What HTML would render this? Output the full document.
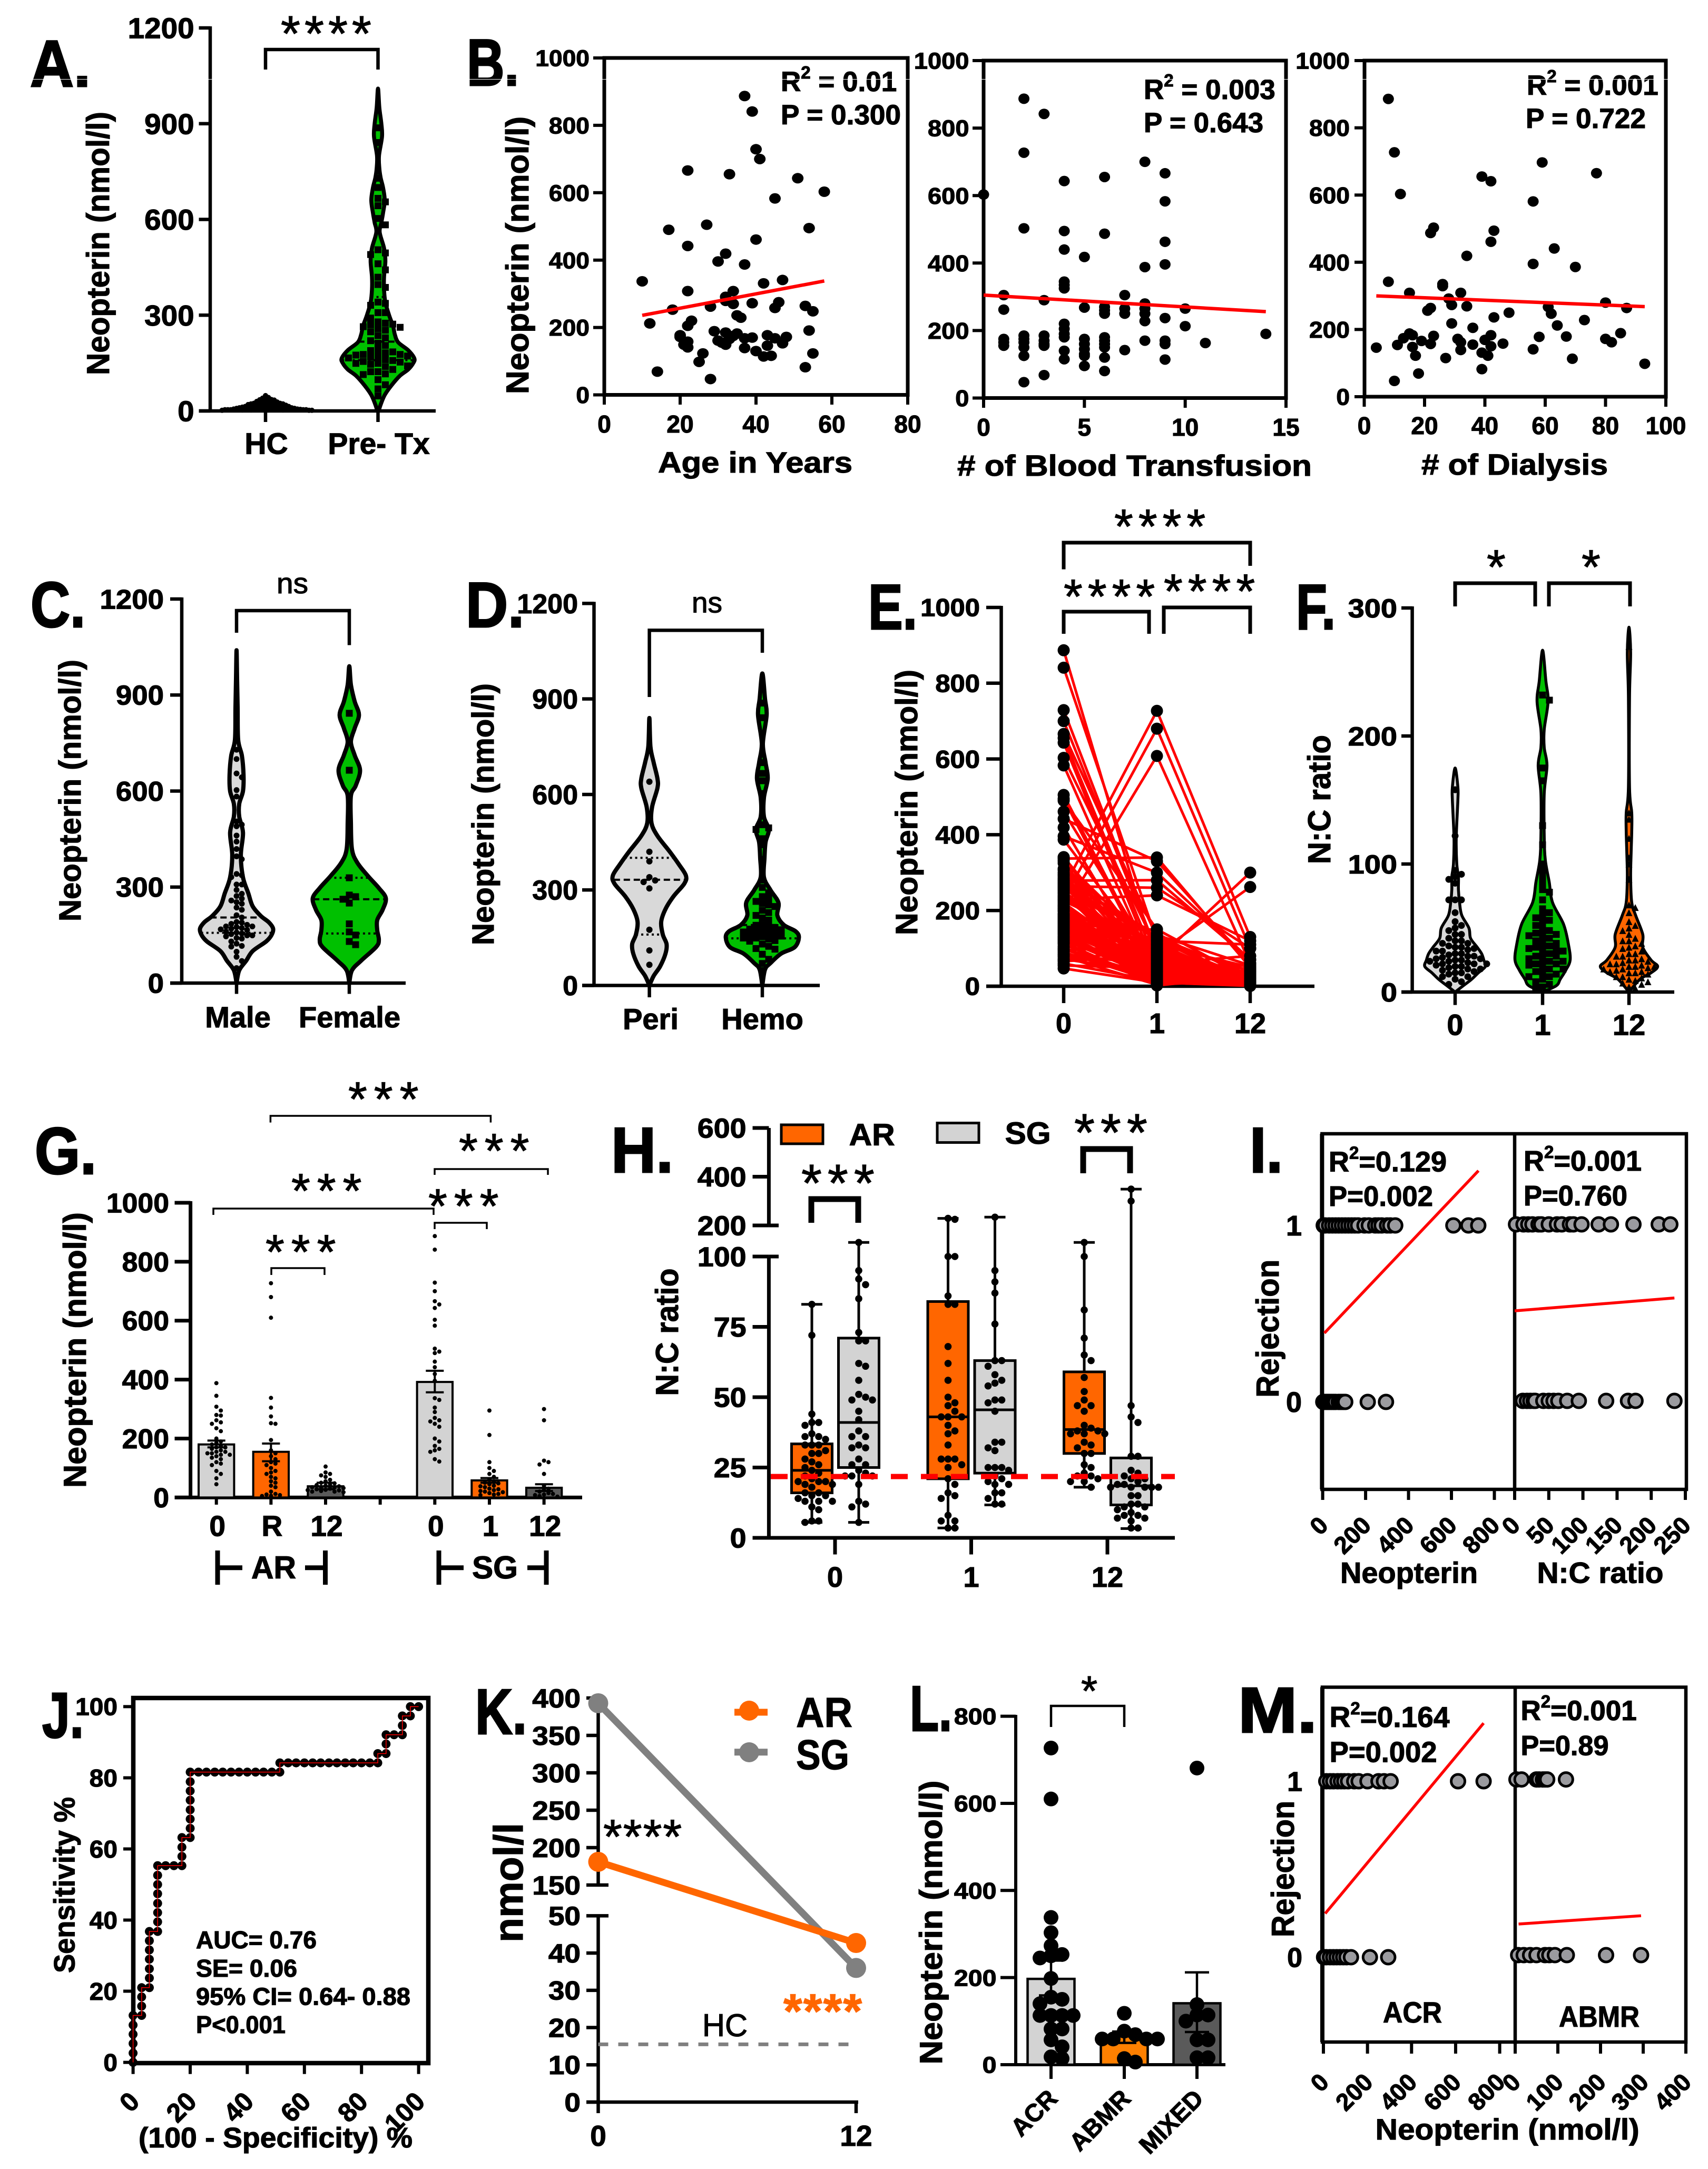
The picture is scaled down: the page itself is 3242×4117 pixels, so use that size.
<!DOCTYPE html>
<html lang="en">
<head>
<meta charset="utf-8">
<title>Neopterin multi-panel figure</title>
<style>
html,body{margin:0;padding:0;background:#fff}
svg{display:block}
text{font-family:"Liberation Sans",sans-serif;font-weight:700;fill:#000;stroke:#000;stroke-width:1.2px}
text[font-size="122"],text[font-size="125"]{stroke-width:3px}
.r{font-weight:400}
.br{fill:none;stroke:#000;stroke-linejoin:miter}
</style>
</head>
<body>
<svg id="fig" xmlns="http://www.w3.org/2000/svg" width="3242" height="4117" viewBox="0 0 3242 4117">
<rect width="3242" height="4117" fill="#fff"/>

<g id="pA">
<text x="57" y="164" font-size="125" textLength="115" lengthAdjust="spacingAndGlyphs">A.</text>
<text transform="translate(207,712) rotate(-90)" font-size="60" textLength="500" lengthAdjust="spacingAndGlyphs">Neopterin (nmol/l)</text>
<text class="r" x="533" y="96" font-size="95" letter-spacing="8">****</text>
<path class="br" stroke-width="6.5" d="M504 132V94H717.5V132"/>
</g>

<g id="pB">
<text x="886" y="162" font-size="125" textLength="99" lengthAdjust="spacingAndGlyphs">B.</text>
<text transform="translate(1003,748) rotate(-90)" font-size="60" textLength="527" lengthAdjust="spacingAndGlyphs">Neopterin (nmol/l)</text>
<text x="1482" y="173" font-size="53">R<tspan font-size="33" dy="-24">2</tspan><tspan dy="24"> = 0.01</tspan></text>
<text x="1482" y="236" font-size="53" textLength="228" lengthAdjust="spacingAndGlyphs">P = 0.300</text>
<text x="1249" y="897" font-size="56" textLength="369" lengthAdjust="spacingAndGlyphs">Age in Years</text>
<text x="2171" y="188" font-size="53">R<tspan font-size="33" dy="-24">2</tspan><tspan dy="24"> = 0.003</tspan></text>
<text x="2171" y="251" font-size="53" textLength="227" lengthAdjust="spacingAndGlyphs">P = 0.643</text>
<text x="1817" y="903" font-size="56" textLength="673" lengthAdjust="spacingAndGlyphs"># of Blood Transfusion</text>
<text x="2898" y="180" font-size="53">R<tspan font-size="33" dy="-24">2</tspan><tspan dy="24"> = 0.001</tspan></text>
<text x="2896" y="243" font-size="53" textLength="228" lengthAdjust="spacingAndGlyphs">P = 0.722</text>
<text x="2698" y="901" font-size="56" textLength="354" lengthAdjust="spacingAndGlyphs"># of Dialysis</text>
</g>

<g id="pC">
<text x="58" y="1190" font-size="122" textLength="104" lengthAdjust="spacingAndGlyphs">C.</text>
<text transform="translate(153,1749) rotate(-90)" font-size="58" textLength="497" lengthAdjust="spacingAndGlyphs">Neopterin (nmol/l)</text>
<text class="r" x="525" y="1126" font-size="55" textLength="60" lengthAdjust="spacingAndGlyphs">ns</text>
<path class="br" stroke-width="6.5" d="M449 1201V1159H663V1224.5"/>
</g>

<g id="pD">
<text x="884" y="1190" font-size="122" textLength="111" lengthAdjust="spacingAndGlyphs">D.</text>
<text transform="translate(937,1794) rotate(-90)" font-size="58" textLength="497" lengthAdjust="spacingAndGlyphs">Neopterin (nmol/l)</text>
<text class="r" x="1313" y="1162.6" font-size="55" textLength="58" lengthAdjust="spacingAndGlyphs">ns</text>
<path class="br" stroke-width="6.5" d="M1232.6 1323V1196.4H1447V1239"/>
</g>

<g id="pE">
<text x="1648" y="1194" font-size="122" textLength="93" lengthAdjust="spacingAndGlyphs">E.</text>
<text transform="translate(1741,1775) rotate(-90)" font-size="58" textLength="504" lengthAdjust="spacingAndGlyphs">Neopterin (nmol/l)</text>
<text class="r" x="2115" y="1031" font-size="92" letter-spacing="10">****</text>
<path class="br" stroke-width="7" d="M2019 1080.6V1030H2373V1074"/>
<text class="r" x="2019" y="1164" font-size="92" letter-spacing="10">****</text>
<path class="br" stroke-width="7" d="M2019 1203V1161H2181V1203"/>
<text class="r" x="2209" y="1154" font-size="92" letter-spacing="10">****</text>
<path class="br" stroke-width="7" d="M2209 1203V1153H2373V1203"/>
</g>

<g id="pF">
<text x="2460" y="1194" font-size="122" textLength="75" lengthAdjust="spacingAndGlyphs">F.</text>
<text transform="translate(2525,1640) rotate(-90)" font-size="60" textLength="245" lengthAdjust="spacingAndGlyphs">N:C ratio</text>
<text class="r" x="2822" y="1108" font-size="92">*</text>
<text class="r" x="3002" y="1108" font-size="92">*</text>
<path class="br" stroke-width="7" d="M2762 1151V1107H2914V1151"/>
<path class="br" stroke-width="7" d="M2940 1151V1107H3094V1151"/>
</g>

<g id="pG">
<text x="66" y="2228" font-size="125" textLength="117" lengthAdjust="spacingAndGlyphs">G.</text>
<text transform="translate(163,2824) rotate(-90)" font-size="60" textLength="523" lengthAdjust="spacingAndGlyphs">Neopterin (nmol/l)</text>
<path class="br" stroke-width="3.5" d="M513.4 2130.6V2118H931.4V2130.6"/>
<text class="r" x="661" y="2118" font-size="92" letter-spacing="13">***</text>
<path class="br" stroke-width="3.5" d="M825 2230V2219H1040V2230"/>
<text class="r" x="871" y="2216" font-size="92" letter-spacing="13">***</text>
<path class="br" stroke-width="3.5" d="M405 2306V2294H823V2306"/>
<text class="r" x="553" y="2292" font-size="92" letter-spacing="13">***</text>
<path class="br" stroke-width="3.5" d="M825 2333V2321H924V2333"/>
<text class="r" x="813" y="2321" font-size="92" letter-spacing="13">***</text>
<path class="br" stroke-width="3.5" d="M515 2420V2407H616V2420"/>
<text class="r" x="504" y="2408" font-size="92" letter-spacing="13">***</text>
<path class="br" stroke-width="9" d="M413 2943V3008M413 2975.7H460M579 2975.7H617.5M617.5 2943V3008"/>
<text x="477" y="2996" font-size="60" textLength="85" lengthAdjust="spacingAndGlyphs">AR</text>
<path class="br" stroke-width="9" d="M833 2943V3008M833 2975.7H880M1001 2975.7H1037M1037 2943V3008"/>
<text x="896" y="2996" font-size="60" textLength="87" lengthAdjust="spacingAndGlyphs">SG</text>
</g>

<g id="pH">
<text x="1160" y="2225" font-size="122" textLength="118" lengthAdjust="spacingAndGlyphs">H.</text>
<text transform="translate(1287,2649.5) rotate(-90)" font-size="60" textLength="242" lengthAdjust="spacingAndGlyphs">N:C ratio</text>
<rect x="1483" y="2135" width="79" height="36" fill="#ff6600" stroke="#000" stroke-width="5"/>
<text x="1611.6" y="2174" font-size="58" textLength="87" lengthAdjust="spacingAndGlyphs">AR</text>
<rect x="1779" y="2131.6" width="79" height="37" fill="#d3d3d3" stroke="#000" stroke-width="5"/>
<text x="1907.6" y="2171" font-size="58" textLength="87" lengthAdjust="spacingAndGlyphs">SG</text>
<text class="r" x="2039" y="2184" font-size="100" letter-spacing="11">***</text>
<path class="br" stroke-width="11" d="M2056 2227V2181H2145V2227"/>
<text class="r" x="1521" y="2280" font-size="100" letter-spacing="11">***</text>
<path class="br" stroke-width="11" d="M1540 2321V2276H1629V2321"/>
</g>

<g id="pI">
<text x="2372" y="2225" font-size="122" textLength="63" lengthAdjust="spacingAndGlyphs">I.</text>
<text transform="translate(2427,2652.7) rotate(-90)" font-size="60" textLength="262" lengthAdjust="spacingAndGlyphs">Rejection</text>
<text x="2522" y="2223.5" font-size="54">R<tspan font-size="33" dy="-24">2</tspan><tspan dy="24">=0.129</tspan></text>
<text x="2522" y="2289" font-size="54" textLength="198" lengthAdjust="spacingAndGlyphs">P=0.002</text>
<text x="2892" y="2222" font-size="54">R<tspan font-size="33" dy="-24">2</tspan><tspan dy="24">=0.001</tspan></text>
<text x="2892" y="2288" font-size="54" textLength="197" lengthAdjust="spacingAndGlyphs">P=0.760</text>
<text x="2544" y="3004.7" font-size="56" textLength="261" lengthAdjust="spacingAndGlyphs">Neopterin</text>
<text x="2917.5" y="3004.7" font-size="56" textLength="240" lengthAdjust="spacingAndGlyphs">N:C ratio</text>
</g>

<g id="pJ">
<text x="80" y="3298" font-size="122" textLength="79" lengthAdjust="spacingAndGlyphs">J.</text>
<text transform="translate(141.6,3745) rotate(-90)" font-size="56" textLength="334" lengthAdjust="spacingAndGlyphs">Sensitivity %</text>
<text x="263" y="4076" font-size="54" textLength="520" lengthAdjust="spacingAndGlyphs">(100 - Specificity) %</text>
<text x="372" y="3698" font-size="46" textLength="229" lengthAdjust="spacingAndGlyphs">AUC= 0.76</text>
<text x="372" y="3752" font-size="46" textLength="192" lengthAdjust="spacingAndGlyphs">SE= 0.06</text>
<text x="372" y="3805.7" font-size="46" textLength="407" lengthAdjust="spacingAndGlyphs">95% CI= 0.64- 0.88</text>
<text x="372" y="3859" font-size="46" textLength="170" lengthAdjust="spacingAndGlyphs">P&lt;0.001</text>
</g>

<g id="pK">
<text x="902" y="3291" font-size="122" textLength="98" lengthAdjust="spacingAndGlyphs">K.</text>
<text transform="translate(992,3687) rotate(-90)" font-size="78" textLength="227" lengthAdjust="spacingAndGlyphs">nmol/l</text>
<text class="r" x="1145" y="3518" font-size="92" letter-spacing="2">****</text>
<text x="1487" y="3849" font-size="92" letter-spacing="2" style="fill:#ff6600;stroke:#ff6600">****</text>
<text class="r" x="1333" y="3865" font-size="60" textLength="86" lengthAdjust="spacingAndGlyphs">HC</text>
<text x="1511" y="3278" font-size="80" textLength="107" lengthAdjust="spacingAndGlyphs">AR</text>
<text x="1511" y="3358" font-size="80" textLength="101" lengthAdjust="spacingAndGlyphs">SG</text>
</g>

<g id="pL">
<text x="1727" y="3285" font-size="122" textLength="80" lengthAdjust="spacingAndGlyphs">L.</text>
<text transform="translate(1788,3918.5) rotate(-90)" font-size="60" textLength="539" lengthAdjust="spacingAndGlyphs">Neopterin (nmol/l)</text>
<path class="br" stroke-width="4.5" d="M1995 3278V3238H2134V3278"/>
<text class="r" x="2052" y="3237" font-size="80">*</text>
</g>

<g id="pM">
<text x="2350" y="3288" font-size="122" textLength="150" lengthAdjust="spacingAndGlyphs">M.</text>
<text transform="translate(2456,3677) rotate(-90)" font-size="60" textLength="259" lengthAdjust="spacingAndGlyphs">Rejection</text>
<text x="2523.6" y="3278" font-size="55">R<tspan font-size="33" dy="-24">2</tspan><tspan dy="24">=0.164</tspan></text>
<text x="2523.6" y="3344.5" font-size="55" textLength="204" lengthAdjust="spacingAndGlyphs">P=0.002</text>
<text x="2886.5" y="3265" font-size="53">R<tspan font-size="33" dy="-24">2</tspan><tspan dy="24">=0.001</tspan></text>
<text x="2886.5" y="3331.5" font-size="53" textLength="167" lengthAdjust="spacingAndGlyphs">P=0.89</text>
<text x="2625" y="3839" font-size="56" textLength="112" lengthAdjust="spacingAndGlyphs">ACR</text>
<text x="2959" y="3847" font-size="56" textLength="153" lengthAdjust="spacingAndGlyphs">ABMR</text>
<text x="2610.7" y="4061" font-size="56" textLength="501" lengthAdjust="spacingAndGlyphs">Neopterin (nmol/l)</text>
</g>
<rect x="0" y="150" width="3242" height="1" fill="#fff"/>
</svg>

<script>
// ---------- Panel A data ----------
const aTicks = ['0','300','600','900','1200'];
const aCategories = ['HC','Pre- Tx'];
const hcValues = [48,42,40,38,36,35,34,32,30,30,28,28,26,26,25,24,24,22,22,22,20,20,20,18,18,18,16,16,16,15,14,14,14,12,12,12,12,10,10,10,10,10,8,8,8,8,8,6,6,6,6,6,6,5,5,5,5,4,4,4,4,4,3,3,3,3,2,2,2];
const preTxValues = [887,841,729,700,666,655,643,603,583,505,495,490,461,442,419,396,387,341,337,331,308,308,291,279,275,272,270,264,262,258,253,248,236,229,220,212,205,191,189,185,182,177,177,175,172,170,168,166,161,158,155,153,149,149,146,141,139,130,123,123,116,114,98,82,69,47];
const preTxDensityAt = [0,20,50,80,110,130,150,165,190,215,240,265,300,340,380,420,470,510,560,590,620,660,700,730,760,800,860,900,950,1010];
const preTxDensity = [2,8,20,40,65,90,105,108,90,60,50,45,33,22,18,18,22,18,5,10,15,20,15,8,4,3,12,10,4,0];
const preTxQuartiles = [159,217,357];

// ---------- Panel B data ----------
const bYTicks = ['0','200','400','600','800','1000'];
const ageTicks = ['0','20','40','60','80'];
const ageYears = [10,12,14,17,18,20,20,21,22,22,22,22,22,22,23,25,26,27,28,28,29,30,30,31,32,32,32,32,32,33,33,34,34,34,35,35,36,37,37,37,37,39,39,39,40,40,40,41,42,42,43,43,44,45,45,45,46,47,47,48,51,53,53,54,54,55,55,58];
const ageNeopterin = [337,212,69,490,253,177,172,149,666,442,308,205,158,141,220,98,123,505,262,47,189,396,161,155,419,291,279,185,149,655,166,308,270,175,236,182,229,887,387,168,139,841,272,170,729,461,130,700,331,114,177,146,116,583,258,168,275,341,153,172,643,264,82,495,191,248,123,603];
const ageFitX = [10,58];
const ageFitY = [236,338];
const transfusionTicks = ['0','5','10','15'];
const transfusionCounts = [0,1,2,3,4,5,6,7,8,9,10,11,14];
const neopterinByTransfusion = [[603],[305,262,175,165,155],[887,727,503,185,175,165,150,125,47],[842,290,185,170,160,155,68],[643,495,440,345,335,325,220,205,190,180,140,115],[418,268,175,160,145,130,125,95],[655,487,270,260,250,180,170,160,150,120,80],[305,265,250,142],[700,388,280,265,250,228,170],[666,583,463,396,237,170,160,114],[265,213],[163],[190]];
const transfusionFitX = [0,14];
const transfusionFitY = [305,256];
const dialysisTicks = ['0','20','40','60','80','100'];
const dialysisCounts = [4,8,8,10,10,11,12,13,15,15,16,16,17,18,19,21,22,22,22,23,23,26,26,27,28,29,29,31,32,32,32,34,34,36,36,39,39,39,40,41,42,42,42,42,43,43,46,48,56,56,56,58,59,61,62,64,63,67,69,70,73,77,80,80,82,85,87,93];
const dialysisNeopterin = [146,886,342,727,47,154,603,174,309,188,183,148,122,69,166,256,487,264,157,503,181,335,329,115,292,273,218,172,309,162,139,419,269,205,155,655,131,82,169,122,641,461,183,150,494,236,158,250,581,395,141,178,697,267,247,212,441,179,113,386,228,665,280,172,162,189,264,98];
const dialysisFitX = [4,93];
const dialysisFitY = [300,268];

// ---------- Panel C / D data ----------
const vTicks = ['0','300','600','900','1200'];
const maleValues = [729,700,655,643,603,583,505,495,490,461,442,419,396,387,341,337,331,308,308,291,279,272,264,258,253,248,236,229,212,205,191,189,185,182,177,177,175,172,170,168,166,161,158,155,153,149,149,146,141,139,130,123,116,114,98,82,69,47];
const maleDensityAt = [0,40,70,100,130,150,170,190,210,240,280,330,400,470,520,560,600,650,710,760,860,950,1040];
const maleDensity = [0,5,18,30,55,65,68,60,45,30,22,12,8,12,5,5,12,13,10,3,2,1,0];
const maleQuartiles = [157,205,null];
const femaleValues = [843,665,329,275,270,262,250,185,160,150,130,120];
const femaleDensityAt = [0,40,70,113,135,165,197,229,265,297,334,376,418,500,585,617,665,712,754,796,838,880,932,990];
const femaleDensity = [0,5,22,50,55,52,52,62,68,55,35,15,5,3,3,12,20,10,3,10,18,10,3,0];
const femaleQuartiles = [155,262,329];
const periValues = [640,420,390,340,330,325,305,175,110,65];
const periDensityAt = [0,30,60,100,130,160,200,240,280,320,345,380,420,470,510,560,620,650,700,750,840];
const periDensity = [0,8,20,30,32,25,22,30,45,65,68,55,38,15,4,5,15,15,8,2,0];
const periQuartiles = [160,332,401];
const hemoValues = [887,841,700,666,643,603,505,495,490,461,442,396,331,308,291,279,272,264,258,253,248,236,229,220,212,205,191,189,185,182,177,175,172,170,168,166,161,158,155,153,149,149,146,141,139,130,123,116,114,98,82,69,47];
const hemoDensityAt = [0,50,70,100,120,150,170,190,220,260,300,340,400,450,490,530,590,650,700,760,850,900,980];
const hemoDensity = [0,5,15,35,60,68,62,40,28,30,15,3,4,6,12,3,3,10,6,1,8,5,0];
const hemoQuartiles = [148,190,null];

// ---------- Panel E data ----------
const eTicks = ['0','200','400','600','800','1000'];
const eVisits = ['0','1','12'];
const e0 = [887,841,729,700,666,655,643,603,583,505,495,490,461,442,419,396,387,341,337,331,308,308,291,279,275,272,270,264,262,258,253,248,236,229,220,212,205,191,189,185,182,177,177,175,172,170,168,166,161,158,155,153,149,149,146,141,139,130,123,123,116,114,98,82,69,47,300,260,230,200,180,160,340,325,310,295,285,270,255,245,235,225,215,205,198,190,183,176,170,163,157,150,144,137,132,127,120,112,105,100,95,90,85,78,72,66,60,55,280,265,240,210];
const e1 = [60,120,90,90,130,60,40,100,30,30,20,150,60,330,10,300,60,45,340,90,25,120,70,280,100,50,15,260,130,110,30,80,90,240,45,60,10,30,75,110,55,20,40,90,15,60,35,8,100,70,50,25,45,120,30,10,60,85,40,20,5,70,15,35,100,10,100,727,680,608,40,25,12,30,60,8,85,20,140,5,50,110,16,95,35,10,70,125,3,45,28,150,6,90,18,115,38,2,75,22,105,12,55,4,33,80,14,48,135,25,65,9];
const e12 = [10,20,30,5,30,15,8,25,12,40,3,18,10,60,2,70,7,22,50,5,14,40,9,70,3,35,6,100,4,11,28,2,16,120,8,5,19,3,45,1,13,6,30,2,10,80,4,7,20,300,15,3,9,110,5,2,25,262,6,1,40,3,8,2,18,1,10,130,100,60,2,7,5,12,2,25,8,35,1,15,3,50,6,20,10,2,30,4,45,7,1,18,60,3,14,1,9,28,2,40,6,11,1,22,4,16,3,8,55,2,13,5];

// ---------- Panel F data ----------
const fTicks = ['0','100','200','300'];
const fVisits = ['0','1','12'];
const nc0 = [158,122,95,92,90,88,85,72,72,72,62,55,52,50,48,45,45,42,40,40,38,38,36,35,35,34,33,32,32,30,30,29,28,28,27,26,26,25,25,24,24,23,22,22,22,21,20,20,19,18,18,17,16,15,15,14,12,12,10,8,6];
const nc1 = [232,228,175,165,130,115,100,95,90,85,80,78,72,65,62,60,58,56,55,52,50,48,46,45,45,44,42,40,40,38,36,35,35,34,33,32,30,30,28,28,26,25,24,24,22,22,21,20,18,18,16,15,14,12,12,10,8,6,4,3];
const nc12 = [270,140,135,120,105,100,88,68,66,62,55,52,50,48,45,42,40,40,38,36,35,34,32,30,30,28,28,26,25,25,24,23,22,22,21,20,20,20,19,18,18,17,16,16,15,15,14,12,12,11,10,9,8,7,6,4,3];
const nc0DensityAt = [0,5,10,15,20,25,30,35,42,50,60,70,80,90,100,120,150,160,175];
const nc0Density = [0,15,30,42,55,52,48,40,28,25,12,8,6,6,3,2,5,5,0];
const nc1DensityAt = [0,5,10,17,25,37,53,70,86,103,122,155,177,191,205,227,243,267];
const nc1Density = [0,25,32,42,50,47,38,18,12,5,3,3,8,3,3,10,6,0];
const nc12DensityAt = [0,10,15,20,25,35,45,60,70,90,110,125,140,160,230,265,285];
const nc12Density = [0,20,40,52,40,25,25,12,5,3,4,5,5,1,1,3,0];

// ---------- Panel G data ----------
const gTicks = ['0','200','400','600','800','1000'];
const gCategories = ['0','R','12','','0','1','12'];
const gMeans = [180,155,38,null,392,58,33];
const gErrUpper = [193,183,50,null,430,66,45];
const gErrLower = [170,123,28,null,357,50,22];
const gAR0 = [388,345,308,295,280,278,262,255,250,235,225,200,190,185,180,175,170,170,165,160,155,155,150,150,145,145,140,135,130,120,115,110,90,80,65,45];
const gARR = [727,680,610,338,305,275,252,250,195,160,150,140,130,120,115,110,100,90,85,80,70,65,55,50,40,35,20,12,10,8,6,5];
const gAR12 = [105,85,80,75,70,60,55,50,48,45,42,40,38,36,35,34,32,30,28,26,25,24,22,20,20,18];
const gSG0 = [887,841,729,700,666,655,643,603,583,505,495,490,461,442,419,396,337,331,305,290,270,262,258,250,240,200,190,175,165,160,155,130,122];
const gSG1 = [295,212,120,100,90,80,70,60,55,50,48,45,40,38,35,30,28,25,22,20,18,15,12,10,8];
const gSG12 = [300,262,125,120,112,80,40,30,25,20,15,12,10,8,5,3];

// ---------- Panel H data ----------
const hTicks = ['0','25','50','75','100','200','400','600'];
const hVisits = ['0','1','12'];
const hQ1 = [16,25,21,23,30,11.7];
const hMedian = [24,41,43,45.5,38.5,18.5];
const hQ3 = [33.4,71,84,63,59,28.4];
const hMin = [5.5,5.5,3.5,11.7,18,3.3];
const hMax = [83,105,229,234,105,349];
const hCutoff = [21.8];
const hAR0 = [83,72,44,41,41,40,37,36,36,35,33,33,33,31,30,30,28,27,26,25,24,23,22,21,20,20,20,19,19,18,16,16,15,15,14,13,13,13,11,10,6,6,5.5];
const hSG0 = [105,95,92,90,85,73,70,70,62,61,56,51,50,49,49,45,42,38,36,36,33,32,32,28,26,26,24,23,22,22,22,19,13,12,11,5.5];
const hAR1 = [229,225,100,100,86,83,83,68,62,56,50,48,47,45,43,43,43,40,38,37,33,28,28,28,26,25,21,19,16,15,14,8,6,6,3.5,3.5];
const hSG1 = [234,95,91,87,76,63,63,61,58,56,55,54,49,49,48,45,34,34,32,31,25,25,25,24,22,21,20,19,19,16,16,14,12,12];
const hAR12 = [105,100,81,71,65,63,57,52,49,47,47,45,40,39,38,38,37,37,37,34,33,32,30,30,26,25,23,22,22,21,20,20,18];
const hSG12 = [349,300,47,43,41,29,29,24,23,22,21,21,20,19,19,18,18,18,18,18,15,15,12,12,11,11,10,9,8,8,7,7,6,3.5,3.5];

// ---------- Panel I data ----------
const iYTicks = ['0','1'];
const iNeoTicks = ['0','200','400','600','800'];
const iNcTicks = ['0','50','100','150','200','250'];
const iNeoRejected = [5,12,30,45,60,75,90,105,120,135,150,165,195,215,245,260,275,300,315,338,609,679,725];
const iNeoStable = [3,10,20,30,40,50,60,75,85,95,105,210,295];
const iNcRejected = [2,13,20,26,35,39,50,62,69,81,86,98,123,141,174,211,228];
const iNcStable = [12,18,23,28,30,42,50,57,64,77,94,134,166,177,234];
const iNeoFitX = [8,726];
const iNeoFitY = [0.39,1.31];
const iNcFitX = [0,234];
const iNcFitY = [0.51,0.583];

// ---------- Panel J data ----------
const jTicks = ['0','20','40','60','80','100'];
const rocFpr = [0,3,5.7,8.6,11.4,14.3,17.1,20,22.9,25.7,28.6,31.4,34.3,37.1,40,42.9,45.7,48.6,51.4,54.3,57.1,60,62.9,65.7,68.6,71.4,74.3,77.1,80,82.9,85.7,88.6,91.4,94.3,97.1,100];
const rocSens = [[0,2.6,5.3,7.9,10.5,13.2],[13.2,15.8,18.4,21],[21,23.7,26.3,29,31.6,34.2,36.8],[36.8,39.5,42.1,44.7,47.4,50,52.6,55.3],[55.3],[55.3],[55.3,57.9,60.5,63.2],[63.2,65.8,68.4,71,73.7,76.3,78.9,81.6],[81.6],[81.6],[81.6],[81.6],[81.6],[81.6],[81.6],[81.6],[81.6],[81.6],[81.6,84.2],[84.2],[84.2],[84.2],[84.2],[84.2],[84.2],[84.2],[84.2],[84.2],[84.2],[84.2],[84.2,86.8],[86.8,89.5,92.1],[92.1],[92.1,94.7,97.4],[97.4,100],[100]];

// ---------- Panel K data ----------
const kTicks = ['0','10','20','30','40','50','150','200','250','300','350','400'];
const kMonths = [0,12];
const kAR = [181,42.7];
const kSG = [393,36];
const kHC = [15.5];

// ---------- Panel L data ----------
const lTicks = ['0','200','400','600','800'];
const lCategories = ['ACR','ABMR','MIXED'];
const lMeans = [197,65,141];
const lErrUpper = [239,76,212];
const lErrLower = [159,50,75];
const lACR = [727,610,338,303,273,253,250,245,198,155,150,140,113,113,113,113,82,82,57,41,18,14];
const lABMR = [118,77,69,59,59,59,59,14,6];
const lMIXED = [681,138,114,114,100,57,57,16,16];

// ---------- Panel M data ----------
const mAcrTicks = ['0','200','400','600','800'];
const mAbmrTicks = ['0','100','200','300','400'];
const mAcrRejected = [13,30,45,64,80,95,112,140,160,200,250,275,305,611,727];
const mAcrStable = [3,13,30,45,60,75,90,105,125,211,294];
const mAbmrRejected = [3,15,50,56,65,70,75,119];
const mAbmrStable = [7,20,35,50,70,80,93,121,213,295];
const mAcrFitX = [8,727];
const mAcrFitY = [0.248,1.33];
const mAbmrFitX = [8,295];
const mAbmrFitY = [0.177,0.224];

// ---------- Helpers ----------
const NS = 'http://www.w3.org/2000/svg';
function add(parent, tag, attrs, name) {
  const el = document.createElementNS(NS, tag);
  for (const k in attrs) el.setAttribute(k, attrs[k]);
  
  
  parent.appendChild(el);
  return el;
}
function lin(d0, d1, r0, r1) { return v => r0 + (v - d0) * (r1 - r0) / (d1 - d0); }
function seg(g, x1, y1, x2, y2, w, name, color, dash) {
  const a = {x1, y1, x2, y2, stroke: color || '#000', 'stroke-width': w};
  if (dash) a['stroke-dasharray'] = dash;
  return add(g, 'line', a, name);
}
function label(g, str, x, y, size, anchor, xs, name, rot) {
  const a = {'font-size': size, 'text-anchor': anchor};
  if (rot) { a.transform = `translate(${x},${y}) rotate(${rot})`; } else { a.x = x; a.y = y; }
  if (xs) { a.textLength = str.length * 0.556 * size * xs; a.lengthAdjust = 'spacingAndGlyphs'; }
  const t = add(g, 'text', a, name);
  t.textContent = str;
  return t;
}
function yTicks(g, ticks, y, axisX, left, labelRight, size, xs, sw) {
  ticks.forEach(t => {
    const py = y(+t);
    seg(g, left, py, axisX, py, sw, 'y-tick');
    label(g, t, labelRight, py + 0.355 * size, size, 'end', xs, 'y-tick-label');
  });
}
function xTicksNum(g, ticks, x, yBase, bottom, labelY, size, sw) {
  ticks.forEach(t => {
    const px = x(+t);
    seg(g, px, yBase, px, bottom, sw, 'x-tick');
    label(g, t, px, labelY, size, 'middle', 0, 'x-tick-label');
  });
}
function xTicksRot(g, ticks, x, yBase, bottom, ox, ly, size, sw) {
  ticks.forEach(t => {
    const px = x(+t);
    seg(g, px, yBase, px, bottom, sw, 'x-tick');
    label(g, t, px + ox, ly, size, 'end', 0, 'x-tick-label', -45);
  });
}
function swarm(vals, y, d) {
  const placed = [];
  [...vals].sort((a, b) => b - a).forEach(v => {
    const py = y(v);
    for (let k = 0; k < 60; k++) {
      const off = k === 0 ? 0 : (k % 2 ? 1 : -1) * Math.ceil(k / 2) * d;
      if (!placed.some(p => Math.abs(p.y - py) < d * 0.9 && Math.abs(p.dx - off) < d * 0.9)) {
        placed.push({v, y: py, dx: off});
        break;
      }
    }
  });
  return placed;
}
function dots(g, vals, cx, y, d, r, shape, name) {
  swarm(vals, y, d).forEach(p => {
    if (shape === 'square') {
      add(g, 'rect', {x: cx + p.dx - r, y: p.y - r, width: 2 * r, height: 2 * r, fill: '#000'}, name);
    } else if (shape === 'triangle') {
      add(g, 'path', {d: `M${cx + p.dx} ${p.y - r}L${cx + p.dx + r} ${p.y + r}L${cx + p.dx - r} ${p.y + r}Z`, fill: '#000'}, name);
    } else {
      add(g, 'circle', {cx: cx + p.dx, cy: p.y, r, fill: '#000'}, name);
    }
  });
}
function smooth(pts) {
  let d = `M${pts[0][0]} ${pts[0][1]}`;
  for (let i = 0; i < pts.length - 1; i++) {
    const p0 = pts[Math.max(i - 1, 0)], p1 = pts[i], p2 = pts[i + 1], p3 = pts[Math.min(i + 2, pts.length - 1)];
    const c1 = [p1[0] + (p2[0] - p0[0]) / 6, p1[1] + (p2[1] - p0[1]) / 6];
    const c2 = [p2[0] - (p3[0] - p1[0]) / 6, p2[1] - (p3[1] - p1[1]) / 6];
    d += `C${c1[0]} ${c1[1]} ${c2[0]} ${c2[1]} ${p2[0]} ${p2[1]}`;
  }
  return d + 'Z';
}
function densityAt(at, dens, v) {
  for (let i = 0; i < at.length - 1; i++) {
    if (v >= at[i] && v <= at[i + 1]) return dens[i] + (dens[i + 1] - dens[i]) * (v - at[i]) / (at[i + 1] - at[i]);
  }
  return 0;
}
function violin(g, cx, y, at, dens, k, fill, sw, quart, name) {
  const right = at.map((v, i) => [cx + dens[i] * k, y(v)]);
  const left = at.map((v, i) => [cx - dens[i] * k, y(v)]).reverse();
  add(g, 'path', {d: smooth(right.concat(left.slice(1))), fill, stroke: '#000', 'stroke-width': sw, 'stroke-linejoin': 'round'}, name);
  if (quart) quart.forEach((q, i) => {
    if (q === null) return;
    const w = densityAt(at, dens, q) * k;
    seg(g, cx - w, y(q), cx + w, y(q), 4, name + '-quartile-line', '#000', i === 1 ? '12 7' : '4 6');
  });
}
function fitLine(g, x, y, xs, ys, w, name) {
  seg(g, x(xs[0]), y(ys[0]), x(xs[1]), y(ys[1]), w, name, '#ff0000');
}

const pA = document.getElementById('pA'), pB = document.getElementById('pB'), pC = document.getElementById('pC'),
      pD = document.getElementById('pD'), pE = document.getElementById('pE'), pF = document.getElementById('pF'),
      pG = document.getElementById('pG'), pH = document.getElementById('pH'), pI = document.getElementById('pI'),
      pJ = document.getElementById('pJ'), pK = document.getElementById('pK'), pL = document.getElementById('pL'),
      pM = document.getElementById('pM');

// ---------- Violin two-group panels ----------
function violinAxes(g, cfg) {
  seg(g, cfg.axisX, cfg.y(+cfg.ticks[cfg.ticks.length - 1]) - 3, cfg.axisX, cfg.y(0) + 3, cfg.sw, 'y-axis');
  seg(g, cfg.left, cfg.y(0), cfg.right, cfg.y(0), cfg.sw, 'x-axis');
  yTicks(g, cfg.ticks, cfg.y, cfg.axisX, cfg.left, cfg.labelRight, cfg.size, cfg.xs, cfg.sw);
  cfg.cats.forEach((c, i) => {
    seg(g, cfg.xs2[i], cfg.y(0), cfg.xs2[i], cfg.tickBottom, cfg.sw, 'x-tick');
    label(g, c, cfg.labelX[i], cfg.labelY, cfg.catSize, 'middle', 0, 'x-tick-label');
  });
}

// Panel A
const aY = lin(0, 1200, 780, 53);
violinAxes(pA, {axisX: 399, y: aY, ticks: aTicks, left: 377.5, right: 827, sw: 6.5, labelRight: 368.6, size: 55, xs: 1.03, cats: aCategories, xs2: [504, 717.5], tickBottom: 801, labelX: [505.5, 719], labelY: 861.6, catSize: 57});
violin(pA, 717.5, aY, preTxDensityAt, preTxDensity, 1 / 1.568, '#00c000', 7.5, preTxQuartiles, 'pre-tx-violin');
dots(pA, preTxValues, 717.5, aY, 14, 6.5, 'square', 'pre-tx-point');
dots(pA, hcValues, 504, aY, 5.5, 5, 'circle', 'hc-point');

// Panel B
const b1X = lin(0, 80, 1147, 1723), b1Y = lin(0, 1000, 749.5, 110);
add(pB, 'rect', {x: 1147, y: 110, width: 576, height: 639.5, fill: 'none', stroke: '#000', 'stroke-width': 7}, 'age-plot-frame');
yTicks(pB, bYTicks, b1Y, 1147, 1126, 1119, 44, 1.05, 6);
xTicksNum(pB, ageTicks, b1X, 749.5, 768, 821, 46, 6);
ageYears.forEach((a, i) => add(pB, 'ellipse', {cx: b1X(a), cy: b1Y(ageNeopterin[i]), rx: 11, ry: 10, fill: '#000'}, 'age-point'));
fitLine(pB, b1X, b1Y, ageFitX, ageFitY, 6.5, 'age-fit-line');

const b2X = lin(0, 15, 1867, 2441), b2Y = lin(0, 1000, 755.5, 115);
add(pB, 'rect', {x: 1867, y: 115, width: 574, height: 640.5, fill: 'none', stroke: '#000', 'stroke-width': 7}, 'transfusion-plot-frame');
yTicks(pB, bYTicks, b2Y, 1867, 1846, 1839.5, 44, 1.07, 6);
xTicksNum(pB, transfusionTicks, b2X, 755.5, 774, 827, 46, 6);
transfusionCounts.forEach((c, i) => neopterinByTransfusion[i].forEach(v => add(pB, 'ellipse', {cx: b2X(c), cy: b2Y(v), rx: 10.5, ry: 10, fill: '#000'}, 'transfusion-point')));
fitLine(pB, b2X, b2Y, transfusionFitX, transfusionFitY, 6.5, 'transfusion-fit-line');

const b3X = lin(0, 100, 2589.5, 3162), b3Y = lin(0, 1000, 753, 115);
add(pB, 'rect', {x: 2590, y: 115, width: 572, height: 638, fill: 'none', stroke: '#000', 'stroke-width': 7}, 'dialysis-plot-frame');
yTicks(pB, bYTicks, b3Y, 2590, 2571, 2562, 44, 1.05, 6);
xTicksNum(pB, dialysisTicks, b3X, 753, 772, 824, 46, 6);
dialysisCounts.forEach((c, i) => add(pB, 'ellipse', {cx: b3X(c), cy: b3Y(dialysisNeopterin[i]), rx: 10.5, ry: 10, fill: '#000'}, 'dialysis-point'));
fitLine(pB, b3X, b3Y, dialysisFitX, dialysisFitY, 6.5, 'dialysis-fit-line');

// Panel C
const cY = lin(0, 1200, 1866, 1137);
violinAxes(pC, {axisX: 345, y: cY, ticks: vTicks, left: 323, right: 770, sw: 6.5, labelRight: 311, size: 52, xs: 1.05, cats: ['Male', 'Female'], xs2: [449, 663], tickBottom: 1886.5, labelX: [451.5, 663.5], labelY: 1950, catSize: 56});
violin(pC, 449, cY, maleDensityAt, maleDensity, 1 / 0.98, '#d9d9d9', 8, maleQuartiles, 'male-violin');
dots(pC, maleValues, 449, cY, 10, 5.5, 'circle', 'male-point');
violin(pC, 663, cY, femaleDensityAt, femaleDensity, 1 / 0.98, '#00c000', 8, femaleQuartiles, 'female-violin');
dots(pC, femaleValues, 663, cY, 12, 6.5, 'square', 'female-point');

// Panel D
const dY = lin(0, 1200, 1870.5, 1145.4);
violinAxes(pD, {axisX: 1127.5, y: dY, ticks: vTicks, left: 1105, right: 1556, sw: 6.5, labelRight: 1097, size: 52, xs: 1, cats: ['Peri', 'Hemo'], xs2: [1232.6, 1447], tickBottom: 1893, labelX: [1235, 1447], labelY: 1953.5, catSize: 56});
violin(pD, 1232.6, dY, periDensityAt, periDensity, 1 / 0.98, '#d9d9d9', 8, periQuartiles, 'peri-violin');
dots(pD, periValues, 1232.6, dY, 11, 6, 'circle', 'peri-point');
violin(pD, 1447, dY, hemoDensityAt, hemoDensity, 1 / 0.98, '#00c000', 8, hemoQuartiles, 'hemo-violin');
dots(pD, hemoValues, 1447, dY, 12, 6.5, 'square', 'hemo-point');

// Panel E
const eY = lin(0, 1000, 1872, 1153), eX = lin(0, 2, 2019, 2373);
seg(pE, 1900.5, 1150, 1900.5, 1875, 6.5, 'y-axis');
seg(pE, 1872, 1872, 2495, 1872, 6.5, 'x-axis');
yTicks(pE, eTicks, eY, 1900.5, 1872, 1860, 47, 1.08, 6.5);
eVisits.forEach((v, i) => {
  seg(pE, eX(i), 1872, eX(i), 1904, 6.5, 'x-tick');
  label(pE, v, eX(i), 1961, 54, 'middle', 0, 'x-tick-label');
});
e0.forEach((v, i) => {
  if (e1[i] === undefined || e12[i] === undefined) return;
  add(pE, 'polyline', {points: `${eX(0)},${eY(v)} ${eX(1)},${eY(e1[i])} ${eX(2)},${eY(e12[i])}`, fill: 'none', stroke: '#ff0000', 'stroke-width': 5}, 'patient-line');
});
[e0, e1, e12].forEach((arr, k) => arr.forEach(v => add(pE, 'circle', {cx: eX(k), cy: eY(v), r: 11.5, fill: '#000'}, 'patient-point')));

// Panel F
const fY = lin(0, 300, 1883, 1154);
violinAxes(pF, {axisX: 2680.6, y: fY, ticks: fTicks, left: 2660, right: 3178, sw: 6.5, labelRight: 2652, size: 50, xs: 1.12, cats: fVisits, xs2: [2762, 2928, 3092], tickBottom: 1907.6, labelX: [2762, 2928, 3092], labelY: 1964.5, catSize: 56});
violin(pF, 2762, fY, nc0DensityAt, nc0Density, 1 / 0.955, '#d9d9d9', 5.5, null, 'month-0-violin');
dots(pF, nc0, 2762, fY, 12, 6.5, 'circle', 'month-0-point');
violin(pF, 2928, fY, nc1DensityAt, nc1Density, 1 / 0.955, '#00c000', 5.5, null, 'month-1-violin');
dots(pF, nc1, 2928, fY, 13, 6.5, 'square', 'month-1-point');
violin(pF, 3092, fY, nc12DensityAt, nc12Density, 1 / 0.955, '#ff6600', 5.5, null, 'month-12-violin');
dots(pF, nc12, 3092, fY, 12, 6.5, 'triangle', 'month-12-point');

// Panel G
const gY = lin(0, 1000, 2842.4, 2283), gX = lin(0, 6, 410.7, 1032.6);
const gFills = ['#d3d3d3', '#ff6600', '#5a5a5a', null, '#d3d3d3', '#ff6600', '#5a5a5a'];
const gSets = [gAR0, gARR, gAR12, null, gSG0, gSG1, gSG12];
seg(pG, 361.6, 2280, 361.6, 2846, 7, 'y-axis');
seg(pG, 331.5, 2842.4, 1105, 2842.4, 7, 'x-axis');
yTicks(pG, gTicks, gY, 361.6, 331.5, 321, 52, 1.03, 7);
gCategories.forEach((c, i) => {
  seg(pG, gX(i), 2842.4, gX(i), 2856, 6, 'x-tick');
  if (c) label(pG, c, gX(i) + 2, 2915.4, 55, 'middle', 0, 'x-tick-label');
  if (gMeans[i] === null) return;
  add(pG, 'rect', {x: gX(i) - 33.7, y: gY(gMeans[i]), width: 67.4, height: gY(0) - gY(gMeans[i]), fill: gFills[i], stroke: '#000', 'stroke-width': 4}, 'mean-bar');
  dots(pG, gSets[i], gX(i), gY, 8.5, 4, 'circle', 'subject-point');
  seg(pG, gX(i), gY(gErrUpper[i]), gX(i), gY(gErrLower[i]), 4, 'error-bar');
  seg(pG, gX(i) - 17, gY(gErrUpper[i]), gX(i) + 17, gY(gErrUpper[i]), 4, 'error-cap-upper');
  seg(pG, gX(i) - 17, gY(gErrLower[i]), gX(i) + 17, gY(gErrLower[i]), 4, 'error-cap-lower');
});

// Panel H
const hLower = lin(0, 100, 2919, 2385), hUpper = lin(200, 600, 2326, 2141);
const hY = v => v <= 150 ? hLower(v) : hUpper(v);
const hX = lin(0, 2, 1585, 2102);
seg(pH, 1459.4, 2141, 1459.4, 2326, 7, 'y-axis-upper');
seg(pH, 1459.4, 2385, 1459.4, 2922, 7, 'y-axis-lower');
seg(pH, 1428.5, 2919, 2230, 2919, 7, 'x-axis');
yTicks(pH, hTicks, hY, 1459.4, 1428.5, 1416.6, 52, 1.07, 7);
seg(pH, 1459.4, hY(100), 1478, hY(100), 7, 'axis-break-cap');
seg(pH, 1459.4, hY(200), 1478, hY(200), 7, 'axis-break-cap');
hVisits.forEach((v, i) => {
  seg(pH, hX(i), 2919, hX(i), 2950.5, 7, 'x-tick');
  label(pH, v, hX(i), 3012, 54, 'middle', 0, 'x-tick-label');
});
const hSets = [hAR0, hSG0, hAR1, hSG1, hAR12, hSG12];
hSets.forEach((set, i) => {
  const cx = hX(Math.floor(i / 2)) + (i % 2 ? 45 : -44);
  const fill = i % 2 ? '#d3d3d3' : '#ff6600';
  seg(pH, cx, hY(hMin[i]), cx, hY(hMax[i]), 5, 'box-whisker');
  seg(pH, cx - 20, hY(hMin[i]), cx + 20, hY(hMin[i]), 5, 'whisker-cap-low');
  seg(pH, cx - 20, hY(hMax[i]), cx + 20, hY(hMax[i]), 5, 'whisker-cap-high');
  add(pH, 'rect', {x: cx - 38.5, y: hY(hQ3[i]), width: 77, height: hY(hQ1[i]) - hY(hQ3[i]), fill, stroke: '#000', 'stroke-width': 5}, 'box-iqr');
  seg(pH, cx - 38.5, hY(hMedian[i]), cx + 38.5, hY(hMedian[i]), 5, 'box-median');
  dots(pH, set, cx, hY, 13, 6.8, 'circle', 'box-point');
});
seg(pH, 1463, hY(hCutoff[0]), 2230, hY(hCutoff[0]), 10, 'cutoff-line', '#ff0000', '32 25');

// Rejection panels (I, M)
function rejectionPanel(g, x, y, ones, zeros, r, name) {
  ones.forEach(v => add(g, 'circle', {cx: x(v), cy: y(1), r, fill: '#9b9b9f', stroke: '#000', 'stroke-width': 5}, name + '-rejected-point'));
  zeros.forEach(v => add(g, 'circle', {cx: x(v), cy: y(0), r, fill: '#9b9b9f', stroke: '#000', 'stroke-width': 5}, name + '-stable-point'));
}

// Panel I
const iYL = lin(0, 1, 2661, 2326), iYR = lin(0, 1, 2659, 2324);
const iXL = lin(0, 800, 2510.6, 2836.5), iXR = lin(0, 250, 2875, 3199);
add(pI, 'rect', {x: 2509.4, y: 2152, width: 691.6, height: 675, fill: 'none', stroke: '#000', 'stroke-width': 6.5}, 'plot-frame');
seg(pI, 2509.4, 2152, 2509.4, 2827, 8, 'y-axis');
seg(pI, 2875, 2152, 2875, 2830, 6.5, 'panel-divider');
iYTicks.forEach(t => label(pI, t, 2471, iYL(+t) + 19, 54, 'end', 0, 'y-tick-label'));
xTicksRot(pI, iNeoTicks, iXL, 2827, 2847, 13, 2898, 46, 6);
xTicksRot(pI, iNcTicks, iXR, 2827, 2847, 13, 2898, 46, 6);
fitLine(pI, iXL, iYL, iNeoFitX, iNeoFitY, 5.5, 'neopterin-fit-line');
fitLine(pI, iXR, iYR, iNcFitX, iNcFitY, 5.5, 'nc-ratio-fit-line');
rejectionPanel(pI, iXL, iYL, iNeoRejected, iNeoStable, 13, 'neopterin');
rejectionPanel(pI, iXR, iYR, iNcRejected, iNcStable, 13, 'nc-ratio');

// Panel J
const jX = lin(0, 100, 252.6, 794.6), jY = lin(0, 100, 3914.6, 3239.4);
add(pJ, 'rect', {x: 253, y: 3223, width: 560, height: 693, fill: 'none', stroke: '#000', 'stroke-width': 8.5}, 'plot-frame');
yTicks(pJ, jTicks, jY, 253, 234, 223, 46, 1.04, 6);
xTicksRot(pJ, jTicks, jX, 3916, 3936.7, 15, 3992, 50, 6);
rocFpr.forEach((f, i) => rocSens[i].forEach(s => add(pJ, 'circle', {cx: jX(f), cy: jY(s), r: 8.5, fill: '#000'}, 'roc-point')));
let rocPath = '';
rocFpr.forEach((f, i) => rocSens[i].forEach(s => { rocPath += `${jX(f)},${jY(s)} `; }));
add(pJ, 'polyline', {points: rocPath, fill: 'none', stroke: '#ff0000', 'stroke-width': 1.5}, 'roc-curve');

// Panel K
const kLower = lin(0, 50, 3990, 3636.4), kUpper = lin(150, 400, 3578, 3223);
const kY = v => v <= 100 ? kLower(v) : kUpper(v);
const kX = lin(0, 12, 1135.5, 1625);
seg(pK, 1135.5, 3223, 1135.5, 3578, 6.5, 'y-axis-upper');
seg(pK, 1135.5, 3636.4, 1135.5, 3993, 6.5, 'y-axis-lower');
seg(pK, 1113, 3990, 1629, 3990, 6.5, 'x-axis');
yTicks(pK, kTicks, kY, 1135.5, 1113, 1102, 50, 1.1, 6.5);
seg(pK, 1135.5, kY(150), 1155, kY(150), 6.5, 'axis-break-cap');
seg(pK, 1135.5, kY(50), 1155, kY(50), 6.5, 'axis-break-cap');
kMonths.forEach(m => {
  seg(pK, kX(m), 3990, kX(m), 4011, 6.5, 'x-tick');
  label(pK, String(m), kX(m), 4073, 55, 'middle', 0, 'x-tick-label');
});
seg(pK, kX(0), kY(kHC[0]), 1612, kY(kHC[0]), 7, 'hc-reference-line', '#808080', '19 19');
seg(pK, kX(kMonths[0]), kY(kSG[0]), kX(kMonths[1]), kY(kSG[1]), 13, 'sg-line', '#808080');
kMonths.forEach((m, i) => add(pK, 'circle', {cx: kX(m), cy: kY(kSG[i]), r: 19, fill: '#808080'}, 'sg-point'));
seg(pK, kX(kMonths[0]), kY(kAR[0]), kX(kMonths[1]), kY(kAR[1]), 13, 'ar-line', '#ff6600');
kMonths.forEach((m, i) => add(pK, 'circle', {cx: kX(m), cy: kY(kAR[i]), r: 19, fill: '#ff6600'}, 'ar-point'));
seg(pK, 1394, 3250, 1457, 3250, 13, 'legend-line-ar', '#ff6600');
add(pK, 'circle', {cx: 1422, cy: 3247, r: 19, fill: '#ff6600'}, 'legend-marker-ar');
seg(pK, 1394, 3325.7, 1457, 3325.7, 13, 'legend-line-sg', '#808080');
add(pK, 'circle', {cx: 1422, cy: 3326, r: 19, fill: '#808080'}, 'legend-marker-sg');

// Panel L
const lY = lin(0, 800, 3919, 3257.6), lX = [1995, 2134, 2272];
const lFills = ['#d3d3d3', '#ff8000', '#5a5a5a'];
const lSets = [lACR, lABMR, lMIXED];
seg(pL, 1928, 3255, 1928, 3922, 6, 'y-axis');
seg(pL, 1899, 3919, 2326, 3919, 6, 'x-axis');
yTicks(pL, lTicks, lY, 1928, 1899, 1891.6, 44, 1.1, 6);
lCategories.forEach((c, i) => {
  seg(pL, lX[i], 3919, lX[i], 3946, 6, 'x-tick');
  label(pL, c, lX[i] + 15, 3986, 47, 'end', 0, 'x-tick-label', -45);
  add(pL, 'rect', {x: lX[i] - 44.5, y: lY(lMeans[i]), width: 89, height: lY(0) - lY(lMeans[i]), fill: lFills[i], stroke: '#000', 'stroke-width': 4.5}, 'mean-bar');
  seg(pL, lX[i], lY(lErrUpper[i]), lX[i], lY(lErrLower[i]), 4.5, 'error-bar');
  seg(pL, lX[i] - 23, lY(lErrUpper[i]), lX[i] + 23, lY(lErrUpper[i]), 4.5, 'error-cap-upper');
  seg(pL, lX[i] - 23, lY(lErrLower[i]), lX[i] + 23, lY(lErrLower[i]), 4.5, 'error-cap-lower');
  dots(pL, lSets[i], lX[i], lY, 21, 14, 'circle', 'subject-point');
});

// Panel M
const mYL = lin(0, 1, 3715, 3381), mYR = lin(0, 1, 3711, 3377.6);
const mXL = lin(0, 800, 2512, 2846.6), mXR = lin(0, 400, 2876, 3200);
add(pM, 'rect', {x: 2510, y: 3202.5, width: 690, height: 673.5, fill: 'none', stroke: '#000', 'stroke-width': 6.5}, 'plot-frame');
seg(pM, 2510, 3202.5, 2510, 3876, 8, 'y-axis');
seg(pM, 2876, 3202.5, 2876, 3880, 6.5, 'panel-divider');
iYTicks.forEach(t => label(pM, t, 2472, mYL(+t) + 18.5, 52, 'end', 0, 'y-tick-label'));
xTicksRot(pM, mAcrTicks, mXL, 3876, 3898, 13, 3955, 46, 6);
xTicksRot(pM, mAbmrTicks, mXR, 3876, 3898, 13, 3955, 46, 6);
fitLine(pM, mXL, mYL, mAcrFitX, mAcrFitY, 5.5, 'acr-fit-line');
fitLine(pM, mXR, mYR, mAbmrFitX, mAbmrFitY, 5.5, 'abmr-fit-line');
rejectionPanel(pM, mXL, mYL, mAcrRejected, mAcrStable, 13, 'acr');
rejectionPanel(pM, mXR, mYR, mAbmrRejected, mAbmrStable, 13, 'abmr');
</script>
</body>
</html>
